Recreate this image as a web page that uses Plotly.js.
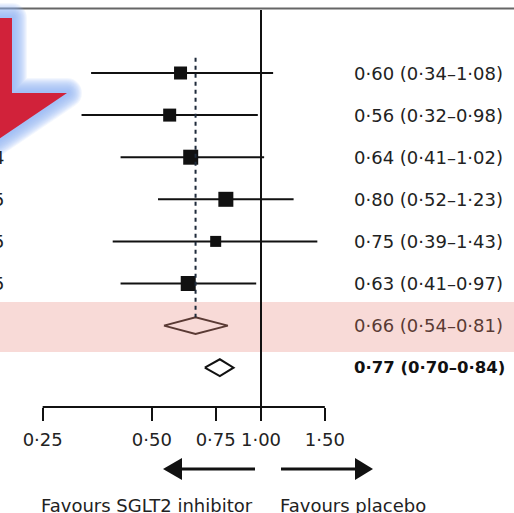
<!DOCTYPE html>
<html>
<head>
<meta charset="utf-8">
<script src="https://cdn.plot.ly/plotly-3.0.1.min.js"></script>
<style>html,body{margin:0;padding:0;background:#fff;}#plot{width:514px;height:513px;}
.shapelayer path{stroke-linejoin:round;}</style>
</head>
<body>
<div id="plot"></div>
<script>
// ---- data ----
const studyRows = [1, 2, 3, 4, 5, 6];
const studyEst = [0.60, 0.56, 0.64, 0.80, 0.75, 0.63];
const studyLo = [0.34, 0.32, 0.41, 0.52, 0.39, 0.41];
const studyHi = [1.08, 0.98, 1.02, 1.23, 1.43, 0.97];
const studyWeights = [13, 13, 15, 15, 11, 15];
const pooledRows = [7, 8];
const pooledEst = [0.66, 0.77];
const pooledLo = [0.54, 0.70];
const pooledHi = [0.81, 0.84];
const tickVals = [0.25, 0.50, 0.75, 1.00, 1.50];
const tickText = ["0·25", "0·50", "0·75", "1·00", "1·50"];
const leftDigits = ["4", "5", "5", "5"];
const leftDigitRows = [3, 4, 5, 6];
const favourLeft = "Favours SGLT2 inhibitor";
const favourRight = "Favours placebo";

// ---- helpers ----
const W = 514, H = 513;
const px = p => p / W;
const py = p => 1 - p / H;
const fmt = v => v.toFixed(2).replace('.', '·');
const ciText = (e, l, h) => fmt(e) + " (" + fmt(l) + "–" + fmt(h) + ")";
const FONT = "DejaVu Sans, sans-serif";
const FS = 18;

const traces = [];
// CI lines
const lx = [], ly = [];
studyRows.forEach((r, i) => { lx.push(studyLo[i], studyHi[i], null); ly.push(r, r, null); });
traces.push({x: lx, y: ly, mode: 'lines', line: {color: '#111', width: 2}, hoverinfo: 'skip'});
// squares
traces.push({x: studyEst, y: studyRows, mode: 'markers',
  marker: {symbol: 'square', size: studyWeights, color: '#111', opacity: 1, line: {width: 0}}});
// diamonds
const dh = 0.2;
const diaStyles = [{line: '#5a3a34', fill: 'rgba(0,0,0,0)'}, {line: '#111', fill: '#fff'}];
pooledRows.forEach((r, i) => {
  traces.push({x: [pooledLo[i], pooledEst[i], pooledHi[i], pooledEst[i], pooledLo[i]],
    y: [r, r - dh, r, r + dh, r], mode: 'lines', fill: 'toself',
    fillcolor: diaStyles[i].fill, line: {color: diaStyles[i].line, width: 2}, hoverinfo: 'skip'});
});

const shapes = [];
// pink band
shapes.push({type: 'rect', xref: 'paper', yref: 'y', x0: 0, x1: 1, y0: 6.44, y1: 7.63,
  fillcolor: '#f8dad7', line: {width: 0}, layer: 'below'});
// top rule
shapes.push({type: 'line', xref: 'paper', yref: 'paper', x0: 0, x1: 1, y0: py(8.5), y1: py(8.5),
  line: {color: '#666', width: 2}});
// vertical line at 1
shapes.push({type: 'line', xref: 'x', yref: 'paper', x0: 1, x1: 1, y0: py(10), y1: py(407),
  line: {color: '#111', width: 2}});
// axis line
shapes.push({type: 'line', xref: 'x', yref: 'paper', x0: tickVals[0], x1: tickVals[tickVals.length - 1],
  y0: py(407), y1: py(407), line: {color: '#111', width: 2}});
// dashed pooled line
shapes.push({type: 'line', xref: 'x', yref: 'y', x0: pooledEst[0], x1: pooledEst[0], y0: 0.64, y1: pooledRows[0] - dh,
  line: {color: '#1e2a3a', width: 2, dash: '4px,4px'}});

// bottom arrows
function poly(pts) { return 'M' + pts.map(p => px(p[0]) + ',' + py(p[1])).join(' L') + ' Z'; }
shapes.push({type: 'line', xref: 'paper', yref: 'paper', x0: px(255), x1: px(180), y0: py(469), y1: py(469), line: {color: '#111', width: 3}});
shapes.push({type: 'path', xref: 'paper', yref: 'paper', path: poly([[163, 469], [182, 458], [182, 480]]), fillcolor: '#111', line: {width: 0}});
shapes.push({type: 'line', xref: 'paper', yref: 'paper', x0: px(281), x1: px(357), y0: py(469), y1: py(469), line: {color: '#111', width: 3}});
shapes.push({type: 'path', xref: 'paper', yref: 'paper', path: poly([[373, 469], [355, 458], [355, 480]]), fillcolor: '#111', line: {width: 0}});

// red highlight arrow with soft glow
const redPts = [[-60, 18], [12, 18], [12, 93], [67, 93], [-10, 145], [-60, 145]];
for (let k = 0; k < 14; k++) {
  const w = 30 - k * 2;
  shapes.push({type: 'path', xref: 'paper', yref: 'paper', path: poly(redPts), fillcolor: 'rgba(0,0,0,0)',
    line: {color: 'rgba(150,186,245,0.11)', width: w}});
}
shapes.push({type: 'path', xref: 'paper', yref: 'paper', path: poly(redPts), fillcolor: '#d1223a', line: {width: 0}});

const annotations = [];
studyRows.forEach((r, i) => {
  annotations.push({xref: 'paper', yref: 'y', x: px(352), y: r, xanchor: 'left', yanchor: 'middle', showarrow: false,
    text: ciText(studyEst[i], studyLo[i], studyHi[i]), font: {family: FONT, size: FS, color: '#222'}});
});
pooledRows.forEach((r, i) => {
  const t = ciText(pooledEst[i], pooledLo[i], pooledHi[i]);
  annotations.push({xref: 'paper', yref: 'y', x: px(352), y: r, xanchor: 'left', yanchor: 'middle', showarrow: false,
    text: i === 1 ? '<b>' + t + '</b>' : t,
    font: {family: FONT, size: i === 1 ? 16.5 : FS, color: i === 0 ? '#5a3a34' : '#111'}});
});
leftDigits.forEach((d, i) => {
  annotations.push({xref: 'paper', yref: 'y', x: px(6), y: leftDigitRows[i], xanchor: 'right', yanchor: 'middle', showarrow: false,
    text: d, font: {family: FONT, size: FS, color: '#222'}});
});
annotations.push({xref: 'paper', yref: 'paper', x: px(147), y: py(505), xanchor: 'center', yanchor: 'middle', showarrow: false,
  text: favourLeft, font: {family: FONT, size: FS, color: '#222'}});
annotations.push({xref: 'paper', yref: 'paper', x: px(353), y: py(505), xanchor: 'center', yanchor: 'middle', showarrow: false,
  text: favourRight, font: {family: FONT, size: FS, color: '#222'}});

const lnPer = 157.5;
const layout = {
  width: W, height: H, margin: {l: 0, r: 0, t: 0, b: 0, pad: 0},
  paper_bgcolor: '#fff', plot_bgcolor: 'rgba(0,0,0,0)', showlegend: false,
  xaxis: {type: 'log', range: [(-261) / (lnPer * Math.LN10), (W - 261) / (lnPer * Math.LN10)],
    tickvals: tickVals, ticktext: tickText, ticks: 'outside', ticklen: 13, tickwidth: 2, tickcolor: '#111',
    ticklabelstandoff: 3,
    showgrid: false, zeroline: false, showline: false, automargin: false,
    tickfont: {family: FONT, size: FS, color: '#222'}, fixedrange: true},
  yaxis: {domain: [(H - 407) / H, 1], range: [1 + (407 - 73) / 42.1, 1 - 73 / 42.1],
    showgrid: false, zeroline: false, showline: false, showticklabels: false, ticks: '', automargin: false},
  shapes: shapes, annotations: annotations
};
Plotly.newPlot('plot', traces, layout, {displayModeBar: false, staticPlot: true});
</script>
</body>
</html>
